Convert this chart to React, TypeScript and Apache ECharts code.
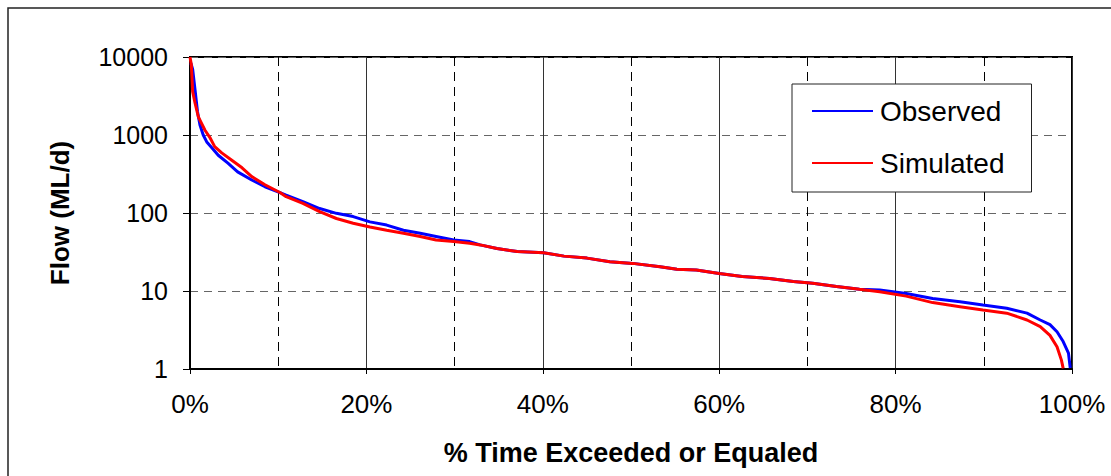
import React, { useEffect, useRef } from "react";
import * as echarts from "echarts";

// Observed flow duration curve (% time exceeded, flow ML/d)
const observedPct = [0, 0.1, 0.3, 0.57, 0.85, 1.13, 1.5, 1.9, 2.5, 3.2, 4.3, 5.4, 7.0, 8.5, 10.2, 10.9, 12.8, 14.7, 16.6, 18.5, 20.4, 22.3, 24.2, 26.1, 27.9, 29.9, 31.7, 32.9, 34.8, 37.1, 40.1, 42.4, 45.0, 47.6, 50.2, 53.3, 55.2, 57.4, 60.0, 62.6, 65.7, 68.4, 70.6, 73.3, 75.9, 78.2, 81.2, 84.2, 87.3, 89.9, 92.6, 94.9, 96.4, 97.5, 98.3, 99.0, 99.6, 99.8];
const observedFlow = [8300, 8300, 7000, 3800, 1990, 1340, 1000, 815, 680, 550, 435, 337, 265, 217, 183, 170, 140, 114, 99, 90, 77, 70, 60, 55, 50, 45, 43, 39, 35, 32, 31, 28, 26.4, 23.7, 22.6, 20.4, 19, 18.6, 16.8, 15.3, 14.5, 13.2, 12.6, 11.4, 10.5, 10.3, 9.3, 8.0, 7.3, 6.6, 6.0, 5.2, 4.25, 3.7, 3.0, 2.25, 1.6, 1.03];

// Simulated flow duration curve
const simulatedPct = [0, 0.15, 0.3, 0.57, 0.95, 1.3, 1.7, 2.3, 2.8, 3.6, 4.7, 5.9, 7.0, 8.5, 10.2, 10.9, 12.8, 14.7, 16.6, 18.5, 20.4, 22.3, 24.2, 26.1, 27.9, 29.9, 31.7, 32.9, 34.8, 37.1, 40.1, 42.4, 45.0, 47.6, 50.2, 53.3, 55.2, 57.4, 60.0, 62.6, 65.7, 68.4, 70.6, 73.3, 75.9, 78.2, 81.2, 84.2, 87.3, 89.9, 92.6, 94.9, 96.4, 97.5, 98.3, 98.8, 99.0];
const simulatedFlow = [10000, 8000, 3600, 2570, 1700, 1420, 1150, 910, 710, 590, 478, 380, 293, 230, 183, 162, 133, 104, 85, 74, 66, 60, 55, 50, 45, 43, 41, 39, 35, 32, 31, 28, 26.4, 23.7, 22.6, 20.4, 19, 18.6, 16.8, 15.3, 14.5, 13.2, 12.6, 11.4, 10.5, 9.8, 8.6, 7.1, 6.3, 5.7, 5.2, 4.25, 3.5, 2.7, 1.93, 1.3, 1.02];

const seriesNames = ["Observed", "Simulated"];
const xTickLabels = ["0%", "20%", "40%", "60%", "80%", "100%"];
const yTickValues = [1, 10, 100, 1000, 10000];

const FONT = "'Liberation Sans', Arial, sans-serif";

export default function App() {
  const ref = useRef<HTMLDivElement>(null);
  useEffect(() => {
    if (!ref.current) return;
    const chart = echarts.init(ref.current, undefined, { renderer: "svg" });
    const obs = observedPct.map((p, i) => [p, observedFlow[i]]);
    const sim = simulatedPct.map((p, i) => [p, simulatedFlow[i]]);
    chart.setOption({
      animation: false,
      backgroundColor: "#fff",
      graphic: [
        {
          type: "rect",
          shape: { x: 8, y: 8, width: 1300, height: 700 },
          style: { fill: "none", stroke: "#222", lineWidth: 1.5 },
          silent: true,
        },
      ],
      grid: {
        left: 190,
        top: 57,
        right: 39,
        bottom: 107,
        show: true,
        borderColor: "#000",
        borderWidth: 2,
        backgroundColor: "#fff",
      },
      legend: {
        data: seriesNames,
        orient: "vertical",
        left: 792,
        top: 84,
        padding: [13, 27, 15, 20],
        itemGap: 24,
        itemWidth: 61,
        itemHeight: 2,
        icon: "rect",
        backgroundColor: "#fff",
        borderColor: "#222",
        borderWidth: 1,
        textStyle: { fontSize: 28, fontFamily: FONT, color: "#000", padding: [0, 0, 0, 2] },
      },
      xAxis: [
        {
          type: "value",
          min: 0,
          max: 100,
          interval: 20,
          name: "% Time Exceeded or Equaled",
          nameLocation: "middle",
          nameGap: 70,
          nameTextStyle: { fontSize: 27, fontWeight: "bold", fontFamily: FONT, color: "#000" },
          axisLine: { show: true, onZero: false, lineStyle: { color: "#000", width: 2 } },
          axisTick: { show: true, length: 5, lineStyle: { color: "#000", width: 1 } },
          axisLabel: {
            margin: 22,
            fontSize: 26,
            fontFamily: FONT,
            color: "#000",
            formatter: (v: number) => xTickLabels[Math.round(v / 20)] ?? `${v}%`,
          },
          splitLine: { show: true, lineStyle: { color: "#333", width: 1, type: "solid" } },
        },
        {
          type: "value",
          min: 0,
          max: 100,
          interval: 10,
          position: "bottom",
          axisLine: { show: false },
          axisTick: { show: false },
          axisLabel: { show: false },
          splitLine: {
            show: true,
            lineStyle: { color: ["transparent", "#000"], width: 1, type: [9, 6] },
          },
        },
      ],
      yAxis: {
        type: "log",
        logBase: 10,
        min: 1,
        max: 10000,
        name: "Flow (ML/d)",
        nameLocation: "middle",
        nameGap: 117,
        nameRotate: 90,
        nameTextStyle: { fontSize: 26, fontWeight: "bold", fontFamily: FONT, color: "#000" },
        axisLine: { show: true, lineStyle: { color: "#000", width: 2 } },
        axisTick: { show: true, length: 7, lineStyle: { color: "#000", width: 1 } },
        axisLabel: {
          margin: 22,
          fontSize: 25,
          fontFamily: FONT,
          color: "#000",
          formatter: (v: number) => {
            const r = Math.round(v);
            return yTickValues.includes(r) ? String(r) : "";
          },
        },
        splitLine: { show: true, lineStyle: { color: "#666", width: 1, type: [8, 6] } },
      },
      series: [
        {
          name: seriesNames[0],
          type: "line",
          data: obs,
          showSymbol: false,
          symbol: "none",
          color: "#0000ff",
          lineStyle: { color: "#0000ff", width: 3 },
          xAxisIndex: 0,
        },
        {
          name: seriesNames[1],
          type: "line",
          data: sim,
          showSymbol: false,
          symbol: "none",
          color: "#ff0000",
          lineStyle: { color: "#ff0000", width: 3 },
          xAxisIndex: 0,
        },
      ],
    });
    return () => chart.dispose();
  }, []);
  return (
    <div
      ref={ref}
      style={{ position: "fixed", left: 0, top: 0, width: 1111, height: 476, background: "#fff" }}
    />
  );
}
